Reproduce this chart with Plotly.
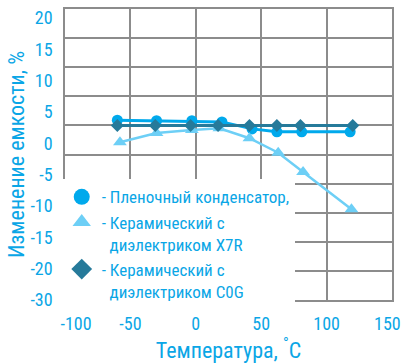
import numpy as np
import plotly.graph_objects as go

# ---------------- data ----------------
temp_film = [-60, -30, -3, 20, 43, 62, 81, 118]
film = [0.9, 0.8, 0.8, 0.6, -0.6, -1.1, -1.1, -1.1]

temp_x7r = [-58, -30, -3, 18, 41, 63, 82, 119]
x7r = [-2.9, -1.3, -0.8, -0.5, -2.2, -4.7, -8.0, -14.4]

temp_c0g = [-60, -31, -4, 17, 41, 62, 80, 120]
c0g = [0.0, 0.0, 0.0, 0.0, 0.0, 0.0, 0.0, 0.0]

ytick_labels = ["20", "15", "10", "5", "0", "-5", "-10", "-15", "-20", "-30"]
xtick_labels = ["-100", "-50", "0", "50", "100", "150"]

names = [
    "- Пленочный конденсатор,",
    "- Керамический с<br>\u00a0\u00a0диэлектриком X7R",
    "- Керамический с<br>\u00a0\u00a0диэлектриком C0G",
]

# ---------------- style ----------------
BLUE = "#00A9EC"
LIGHT = "#6DCFF6"
DARK = "#267A9A"
TXT = "#0AA6E6"
GRID = "#8C8C8C"
FONT = "Liberation Sans Narrow, Roboto Condensed, Roboto, DejaVu Sans Condensed, Arial Narrow, sans-serif"

fig = go.Figure()

fig.add_trace(go.Scatter(x=temp_film, y=film, mode="lines+markers", showlegend=False,
                         line=dict(color=BLUE, width=3),
                         marker=dict(symbol="circle", size=11, color=BLUE)))
fig.add_trace(go.Scatter(x=temp_x7r, y=x7r, mode="lines+markers", showlegend=False,
                         line=dict(color=LIGHT, width=2.5),
                         marker=dict(symbol="triangle-up", size=12, color=LIGHT)))
fig.add_trace(go.Scatter(x=temp_c0g, y=c0g, mode="lines+markers", showlegend=False,
                         line=dict(color=DARK, width=3),
                         marker=dict(symbol="diamond", size=10, color=DARK)))

# legend-only entries (markers only)
for nm, sym, col in zip(names, ["circle", "triangle-up", "diamond"], [BLUE, LIGHT, DARK]):
    fig.add_trace(go.Scatter(x=[None], y=[None], mode="markers", name=nm,
                             marker=dict(symbol=sym, size=16, color=col)))

# label placement (the reference spreads its labels evenly / pulls end labels inward)
ytick_pos = list(np.linspace(18.45, -30, len(ytick_labels)))
xtick_pos = [-91.6, -50, 0, 50, 100, 146.5]

fig.update_layout(
    width=402, height=364,
    margin=dict(l=65, r=10, t=9, b=64),
    paper_bgcolor="white", plot_bgcolor="white",
    font=dict(family=FONT, color=TXT, size=18),
    legend=dict(x=-0.01, y=0.415, xanchor="left", yanchor="top",
                bgcolor="white", borderwidth=0,
                font=dict(family=FONT, color=TXT, size=17),
                itemwidth=30, tracegroupgap=0, valign="top",
                traceorder="normal"),
    xaxis=dict(range=[-100, 150], tickvals=xtick_pos, ticktext=xtick_labels,
               automargin=False,
               showgrid=False, zeroline=False, showline=True, mirror=True,
               linecolor=GRID, linewidth=1.5, ticks="",
               ticklabelstandoff=7,
               tickfont=dict(size=18, color=TXT),
               minor=dict(tickvals=list(range(-100, 151, 50)), showgrid=True,
                          gridcolor=GRID, gridwidth=1.5, ticks=""),
               title=dict(text="Температура, <sup>°</sup>C",
                          font=dict(size=22, color=TXT), standoff=6)),
    yaxis=dict(range=[-30, 20], tickvals=ytick_pos, ticktext=ytick_labels,
               automargin=False,
               showgrid=False, zeroline=False, showline=True, mirror=True,
               linecolor=GRID, linewidth=1.5, ticks="",
               ticklabelstandoff=7,
               tickfont=dict(size=18, color=TXT),
               minor=dict(tickvals=list(range(-30, 25, 5)), showgrid=True,
                          gridcolor=GRID, gridwidth=1.5, ticks=""),
               title=dict(text="Изменение емкости, %",
                          font=dict(size=22, color=TXT), standoff=0)),
)

fig.write_html("out.html",
               config={"displayModeBar": False},
               post_script="document.body.style.margin='0';document.body.style.padding='0';")
